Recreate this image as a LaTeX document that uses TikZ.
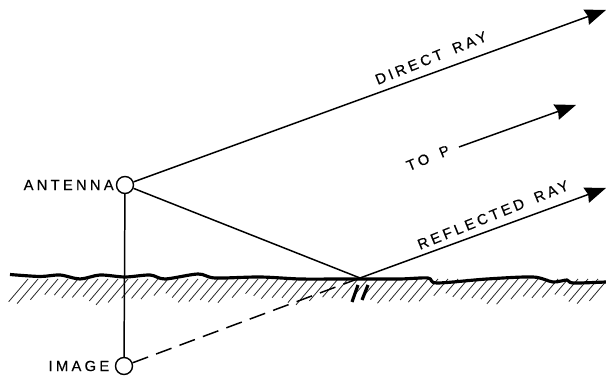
\documentclass[tikz,border=0pt]{standalone}
\usepackage{fontspec}
\setmainfont{Liberation Sans}
\usetikzlibrary{arrows.meta, positioning}
\tikzset{
  source/.style={circle, draw=black, line width=0.8pt, fill=white, minimum size=0.34cm, inner sep=0pt},
  ray/.style={-{Stealth[length=0.42cm,width=0.32cm,inset=0.04cm]}, line width=0.85pt, draw=black},
  plain/.style={line width=0.85pt, draw=black},
  hatch/.style={line width=0.45pt, draw=black!85},
  tag/.style={font=\addfontfeature{LetterSpace=22,FakeBold=0.4}\fontsize{8.4}{10}\selectfont, inner sep=0pt}
}
\begin{document}
\begin{tikzpicture}[x=0.02cm, y=-0.02cm]
  \useasboundingbox (0,0) rectangle (606,377);

  % ground hatching
  \foreach \gx in {28,38,...,608} {
    \pgfmathsetmacro{\glen}{20+3.5*sin(\gx*3.7)+2.5*cos(\gx*9.1)}
    \draw[hatch] (\gx,279) -- ++(-0.85*\glen,\glen);
  }
  \draw[line width=1.8pt, line join=round] plot[smooth, tension=0.5] coordinates {
    (10,274.5) (40,276.5) (60,275) (80,279) (100,275) (125,277) (150,275) (165,279)
    (198,274) (215,278) (260,277) (300,279) (340,279) (360,279) (400,279) (428,278)
    (437,283) (487,279) (533,277) (553,282) (567,280) (573,283) (606,282)};
  \draw[line width=1.8pt] (358,285) -- (352,302);
  \draw[line width=1.8pt] (368,285) -- (362,300);

  \node[source] (antenna) at (125,185) {};
  \node[source] (image) at (124,366) {};
  \coordinate (refl) at (360,278);
  \coordinate (directend) at (606,10);
  \coordinate (reflend) at (606,188);
  \coordinate (pstart) at (459,147);
  \coordinate (pend) at (576,105);

  \node[tag, left=1pt of antenna] (antennatag) {ANTENNA};
  \node[tag, left=3pt of image] (imagetag) {IMAGE};
  \node[tag, rotate=22] (directtag) at (431,58) {DIRECT\hspace{0.8em}RAY};
  \node[tag, rotate=22] (totag) at (428,158) {TO\hspace{0.8em}P};
  \node[tag, rotate=22] (refltag) at (493,215) {REFLECTED\hspace{0.8em}RAY};

  \draw[plain] (antenna) -- (image);
  \draw[plain] (antenna) -- (refl);
  \draw[plain, dash pattern=on 0.33cm off 0.17cm] (image) -- (refl);
  \draw[ray] (antenna) -- (directend);
  \draw[ray] (refl) -- (reflend);
  \draw[ray] (pstart) -- (pend);
\end{tikzpicture}
\end{document}
